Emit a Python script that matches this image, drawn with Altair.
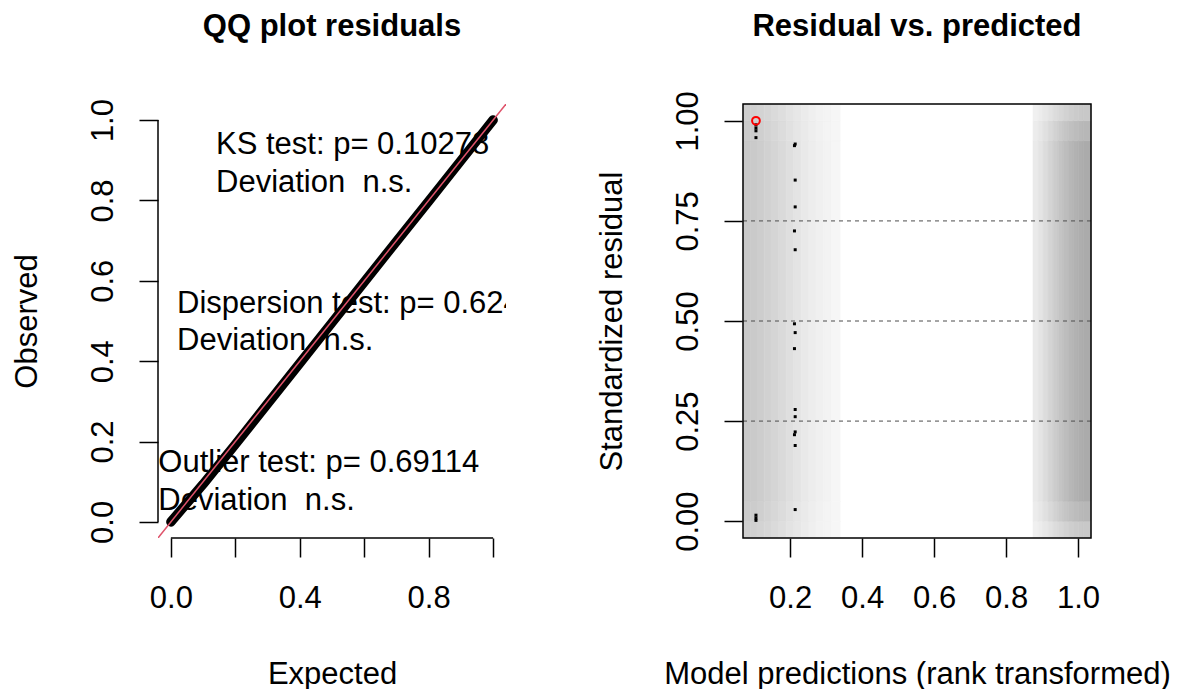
import altair as alt
import pandas as pd

FONT = "Liberation Sans"
FS = 31
W, H = 348, 434
NB = "\u00a0"

# ---------------- left panel: QQ plot ----------------
qq_expected = [0.0, 0.1, 0.2, 0.3, 0.4, 0.5, 0.6, 0.7, 0.8, 0.9, 1.0]
qq_observed = [0.0, 0.094, 0.193, 0.294, 0.395, 0.496, 0.597, 0.698, 0.798, 0.899, 1.0]
qq_ticks = [0.0, 0.2, 0.4, 0.6, 0.8, 1.0]
qq_labeled = ["0.0", "0.4", "0.8"]
qq_domain = [-0.04, 1.04]

test_lines = ["KS test: p= 0.10278", "Deviation " + NB + "n.s.",
              "Dispersion test: p= 0.624", "Deviation " + NB + "n.s.",
              "Outlier test: p= 0.69114", "Deviation " + NB + "n.s."]
test_x = [0.14, 0.14, 0.019, 0.019, -0.039, -0.039]
test_y = [0.915, 0.822, 0.520, 0.428, 0.125, 0.030]

# ---------------- right panel: residual vs predicted ----------------
pred_x = [0.105, 0.105, 0.105, 0.105, 0.105, 0.105, 0.105,
          0.214, 0.212, 0.214, 0.214, 0.212, 0.214, 0.212, 0.214,
          0.212, 0.214, 0.214, 0.214, 0.212, 0.214, 0.214]
resid_y = [0.99, 0.982, 0.975, 0.958, 0.015, 0.008, 0.002,
           0.942, 0.938, 0.852, 0.785, 0.725, 0.678, 0.493, 0.471,
           0.431, 0.279, 0.261, 0.223, 0.216, 0.189, 0.029]
outlier_x = [0.105]
outlier_y = [1.0]
ref_levels = [0.25, 0.50, 0.75]
rv_x_ticks = [0.2, 0.4, 0.6, 0.8, 1.0]
rv_y_ticks = [0.0, 0.25, 0.5, 0.75, 1.0]
rv_x_domain = [0.069, 1.036]
rv_y_domain = [-0.042, 1.042]

# density shading (smoothScatter) columns, gray level 0-255
band_x0 = [0.069, 0.090, 0.108, 0.128, 0.147, 0.168, 0.189, 0.210, 0.231, 0.252, 0.272, 0.293, 0.314,
           0.875, 0.889, 0.903, 0.917, 0.931, 0.945, 0.959, 0.973, 0.987, 1.001, 1.015]
band_x1 = [0.090, 0.108, 0.128, 0.147, 0.168, 0.189, 0.210, 0.231, 0.252, 0.272, 0.293, 0.314, 0.339,
           0.889, 0.903, 0.917, 0.931, 0.945, 0.959, 0.973, 0.987, 1.001, 1.015, 1.036]
band_gray_mid = [200, 202, 205, 209, 213, 218, 223, 228, 233, 237, 240, 243, 246,
                 234, 228, 220, 212, 204, 196, 189, 183, 178, 174, 171]
band_gray_edge1 = [202, 204, 207, 211, 215, 220, 225, 230, 234, 238, 241, 244, 246,
                   236, 231, 224, 217, 210, 203, 197, 192, 188, 185, 183]
band_gray_edge2 = [206, 208, 211, 214, 218, 222, 227, 231, 235, 239, 242, 244, 246,
                   240, 236, 231, 226, 220, 215, 210, 206, 203, 201, 200]
row_y0 = [-0.042, 0.0, 0.05, 0.95, 1.0]
row_y1 = [0.0, 0.05, 0.95, 1.0, 1.042]
row_kind = [2, 1, 0, 1, 2]


def gray(v):
    return "#{0:02x}{0:02x}{0:02x}".format(v)


def x_axis(values, title, fmt, label_expr=None):
    kw = dict(values=values, format=fmt, title=title, tickSize=19, tickWidth=1.5,
              tickColor="black", domain=False, grid=False, labelFont=FONT,
              labelFontSize=FS, labelColor="black", labelPadding=50,
              labelBaseline="alphabetic", labelAlign="center", labelFlush=False,
              labelOverlap=False, titleFont=FONT, titleFontSize=FS,
              titleFontWeight="normal", titleColor="black", titleX=W / 2,
              titleY=145, titleBaseline="alphabetic", titleAlign="center")
    if label_expr:
        kw["labelExpr"] = label_expr
    return alt.Axis(**kw)


def y_axis(values, title, fmt):
    return alt.Axis(values=values, format=fmt, title=title, tickSize=19, tickWidth=1.5,
                    tickColor="black", domain=False, grid=False, labelFont=FONT,
                    labelFontSize=FS, labelColor="black", labelPadding=27,
                    labelAngle=270, labelAlign="center", labelBaseline="alphabetic",
                    labelFlush=False, labelOverlap=False, titleFont=FONT,
                    titleFontSize=FS, titleFontWeight="normal", titleColor="black",
                    titleAngle=270, titleX=-122, titleY=H / 2,
                    titleBaseline="alphabetic", titleAlign="center")


def title(text, offset):
    return alt.TitleParams(text, font=FONT, fontSize=FS, fontWeight="bold",
                           color="black", anchor="middle", frame="group",
                           baseline="alphabetic", offset=offset)


# ---- left
lx_scale = alt.Scale(domain=qq_domain, nice=False, zero=False)
ly_scale = alt.Scale(domain=qq_domain, nice=False, zero=False)
lab_list = "[" + ",".join("'%s'" % s for s in qq_labeled) + "]"
lx_axis = x_axis(qq_ticks, "Expected", ".1f",
                 "indexof(%s, datum.label) >= 0 ? datum.label : ''" % lab_list)
ly_axis = y_axis(qq_ticks, "Observed", ".1f")

LX = alt.X("x:Q", scale=lx_scale, axis=lx_axis)
LY = alt.Y("y:Q", scale=ly_scale, axis=ly_axis)

txt_df = pd.DataFrame({"x": test_x, "y": test_y, "t": test_lines})
qq_df = pd.DataFrame({"x": qq_expected, "y": qq_observed})
abline_df = pd.DataFrame({"x": qq_domain, "y": qq_domain})
yline_df = pd.DataFrame({"x": [qq_domain[0]], "y": [qq_ticks[0]], "y2": [qq_ticks[-1]]})
xline_df = pd.DataFrame({"y": [qq_domain[0]], "x": [qq_ticks[0]], "x2": [qq_ticks[-1]]})

l_text = alt.Chart(txt_df).mark_text(
    align="left", baseline="alphabetic", font=FONT, fontSize=FS, color="black", clip=True
).encode(x=LX, y=LY, text="t:N")
l_qq = alt.Chart(qq_df).mark_line(
    color="black", strokeWidth=9.5, strokeCap="round", strokeJoin="round"
).encode(x=LX, y=LY)
l_ab = alt.Chart(abline_df).mark_line(color="#DF536B", strokeWidth=1.5, clip=True).encode(x=LX, y=LY)
l_yline = alt.Chart(yline_df).mark_rule(color="black", strokeWidth=1.5).encode(x=LX, y=LY, y2="y2:Q")
l_xline = alt.Chart(xline_df).mark_rule(color="black", strokeWidth=1.5).encode(x=LX, y=LY, x2="x2:Q")

left = alt.layer(l_text, l_qq, l_ab, l_yline, l_xline).properties(
    width=W, height=H, title=title("QQ plot residuals", 32))

# ---- right
rx_scale = alt.Scale(domain=rv_x_domain, nice=False, zero=False)
ry_scale = alt.Scale(domain=rv_y_domain, nice=False, zero=False)
rx_axis = x_axis(rv_x_ticks, "Model predictions (rank transformed)", ".1f")
ry_axis = y_axis(rv_y_ticks, "Standardized residual", ".2f")
RX = alt.X("x:Q", scale=rx_scale, axis=rx_axis)
RY = alt.Y("y:Q", scale=ry_scale, axis=ry_axis)

gray_rows = [band_gray_mid, band_gray_edge1, band_gray_edge2]
cells = []
for i in range(len(band_x0)):
    for j in range(len(row_y0)):
        g = gray_rows[row_kind[j]][i]
        cells.append({"x": band_x0[i], "x2": band_x1[i], "y": row_y0[j],
                      "y2": row_y1[j], "c": gray(g)})
cells_df = pd.DataFrame(cells)
pts_df = pd.DataFrame({"x": pred_x, "y": resid_y})
out_df = pd.DataFrame({"x": outlier_x, "y": outlier_y})
ref_df = pd.DataFrame({"y": ref_levels})
frame_df = pd.DataFrame({"x": [rv_x_domain[0]], "x2": [rv_x_domain[1]],
                         "y": [rv_y_domain[0]], "y2": [rv_y_domain[1]]})

r_cells = alt.Chart(cells_df).mark_rect(strokeWidth=0.6).encode(
    x=RX, x2="x2:Q", y=RY, y2="y2:Q",
    color=alt.Color("c:N", scale=None), stroke=alt.Stroke("c:N", scale=None))
r_ref = alt.Chart(ref_df).mark_rule(color="#4d4d4d", strokeWidth=1, strokeDash=[4, 4]).encode(y=RY)
r_pts = alt.Chart(pts_df).mark_square(size=9, color="black", opacity=1).encode(x=RX, y=RY)
r_out = alt.Chart(out_df).mark_point(shape="circle", size=60, color="red", strokeWidth=2,
                                     filled=False, opacity=1).encode(x=RX, y=RY)
r_frame = alt.Chart(frame_df).mark_rect(fillOpacity=0, stroke="black", strokeWidth=1.5).encode(
    x=RX, x2="x2:Q", y=RY, y2="y2:Q")

right = alt.layer(r_cells, r_ref, r_pts, r_out, r_frame).properties(
    width=W, height=H, title=title("Residual vs. predicted", 24))

chart = alt.hconcat(left, right, spacing=90).properties(
    padding={"left": 3, "top": 2, "right": 0, "bottom": 0}
).configure_view(stroke=None)

chart.save("out.html", embed_options={"renderer": "svg", "actions": False})
